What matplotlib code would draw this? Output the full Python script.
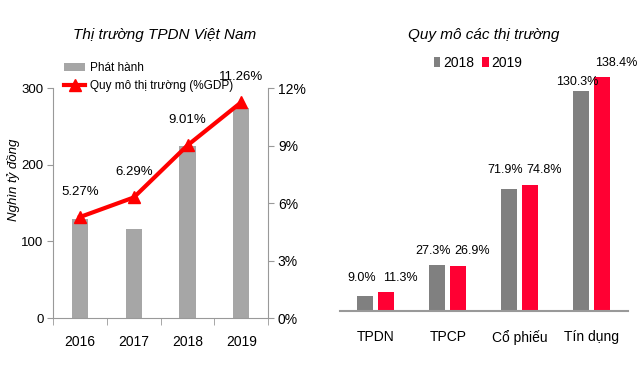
import matplotlib
matplotlib.use("Agg")
import matplotlib.pyplot as plt
from matplotlib.ticker import FuncFormatter
import numpy as np

plt.rcParams['font.family'] = ['Liberation Sans', 'DejaVu Sans']

years = ["2016", "2017", "2018", "2019"]
issuance = [129, 116, 224, 274]          # nghìn tỷ đồng
market_gdp = [5.27, 6.29, 9.01, 11.26]   # % GDP

markets = ["TPDN", "TPCP", "Cổ phiếu", "Tín dụng"]
size_2018 = [9.0, 27.3, 71.9, 130.3]
size_2019 = [11.3, 26.9, 74.8, 138.4]

gray_l = "#a6a6a6"
gray_d = "#808080"
red = "#ff0033"
spine_c = "#999999"
fs = 10

fig = plt.figure(figsize=(6.4, 3.7), dpi=100)

# ---- left chart
ax = fig.add_axes([0.083, 0.1405, 0.336, 0.6216])
x = np.arange(len(years))
ax.bar(x, issuance, width=0.3, color=gray_l, label="Phát hành", zorder=2)
ax.set_xlim(-0.5, 3.5)
ax.set_ylim(0, 300)
ax.set_yticks([0, 100, 200, 300])
ax.set_xticks(x)
ax.set_xticklabels(years, fontsize=fs)
ax.set_xticks(np.arange(-0.5, 4, 1), minor=True)
ax.tick_params(axis="x", which="major", length=0, pad=12)
ax.tick_params(axis="x", which="minor", length=5, color=spine_c, direction="out")
ax.tick_params(axis="y", length=4, color=spine_c, labelsize=9.5, pad=3)
for s in ["top", "right"]:
    ax.spines[s].set_visible(False)
for s in ["left", "bottom"]:
    ax.spines[s].set_color(spine_c)
ax.set_ylabel("Nghìn tỷ đồng", style="italic", fontsize=9.5)
ax.yaxis.set_label_coords(-0.152, 0.6)

ax2 = ax.twinx()
ax2.plot(x, [v / 100 for v in market_gdp], color="#ff0000", lw=3, marker="^",
         markersize=9, label="Quy mô thị trường (%GDP)", zorder=3)
ax2.set_ylim(0, 0.12)
ax2.set_yticks([0, 0.03, 0.06, 0.09, 0.12])
ax2.yaxis.set_major_formatter(FuncFormatter(lambda v, p: f"{v*100:.0f}%"))
ax2.tick_params(axis="y", length=4, color=spine_c, labelsize=fs, pad=3)
for s in ["top", "left", "bottom"]:
    ax2.spines[s].set_visible(False)
ax2.spines["right"].set_color(spine_c)
for xi, v in zip(x, market_gdp):
    ax2.annotate(f"{v:.2f}%", (xi, v / 100), xytext=(0, 14), textcoords="offset points",
                 ha="center", va="bottom", fontsize=9.5)

h1, l1 = ax.get_legend_handles_labels()
h2, l2 = ax2.get_legend_handles_labels()
fig.legend(h1 + h2, l1 + l2, loc="upper left", bbox_to_anchor=(0.1, 0.833),
           frameon=False, fontsize=8.5, handlelength=1.8, handletextpad=0.4,
           labelspacing=0.55, borderaxespad=0, borderpad=0)
fig.text(0.257, 0.905, "Thị trường TPDN Việt Nam", ha="center", va="center",
         style="italic", fontsize=11)

# ---- right chart
bx = fig.add_axes([0.531, 0.1595, 0.45, 0.685])
xm = np.arange(len(markets))
w = 0.22
off = 0.145
bx.bar(xm - off, size_2018, width=w, color=gray_d, label="2018", zorder=2)
bx.bar(xm + off, size_2019, width=w, color=red, label="2019", zorder=2)
bx.set_xlim(-0.5, 3.5)
bx.set_ylim(0, 150)
bx.set_yticks([])
bx.set_xticks(xm)
bx.set_xticklabels(markets, fontsize=fs)
bx.tick_params(axis="x", length=0, pad=14)
for s in ["top", "right", "left"]:
    bx.spines[s].set_visible(False)
bx.spines["bottom"].set_color(spine_c)
bx.spines["bottom"].set_linewidth(1.5)
for xi, a, b in zip(xm, size_2018, size_2019):
    if abs(a - b) > 5:
        ya, dy = a, 2
    else:
        ya, dy = max(a, b), 6
    bx.annotate(f"{a:.1f}%", (xi - off, ya), xytext=(-3, dy), textcoords="offset points",
                ha="center", va="bottom", fontsize=9)
    bx.annotate(f"{b:.1f}%", (xi + off, max(a, b)), xytext=(10, 6), textcoords="offset points",
                ha="center", va="bottom", fontsize=9)
bx.legend(loc="center", bbox_to_anchor=(0.747, 0.83), bbox_transform=fig.transFigure,
          ncol=2, frameon=False, fontsize=fs, handlelength=0.45, handleheight=0.7,
          handletextpad=0.2, columnspacing=0.6)
fig.text(0.755, 0.905, "Quy mô các thị trường", ha="center", va="center",
         style="italic", fontsize=11)

fig.savefig("out.png", dpi=100)
